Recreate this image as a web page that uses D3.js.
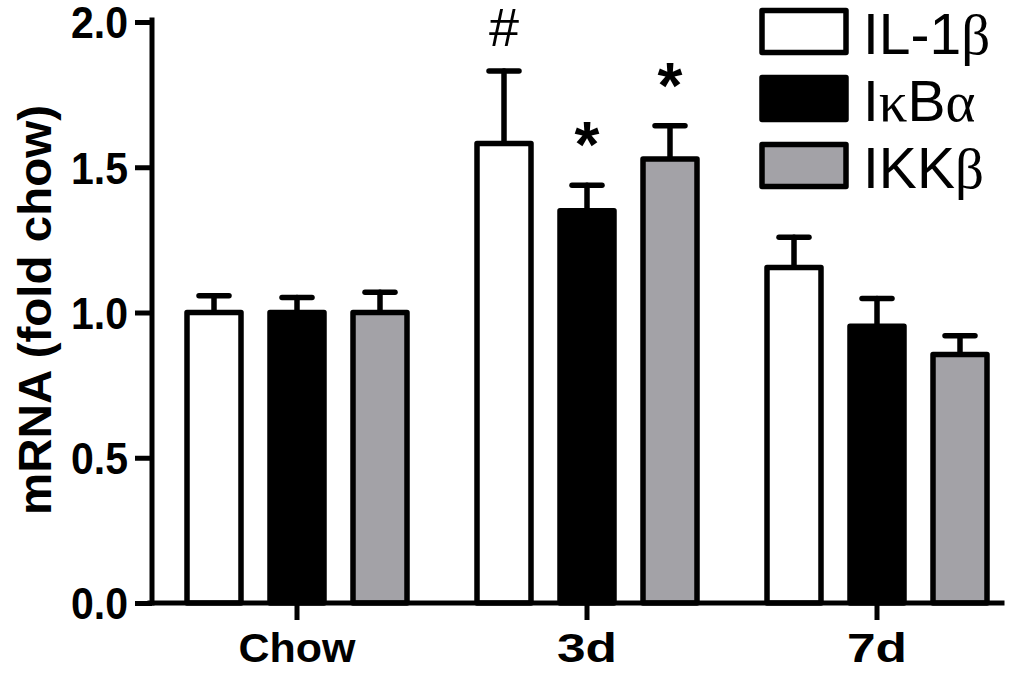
<!DOCTYPE html>
<html lang="en">
	<head>
		<meta charset="utf-8">
		<title>mRNA fold chow</title>
		<script type="text/javascript" src="https://d3js.org/d3.v7.min.js"></script>
		<style type="text/css">
			body { margin:0; background:#fff; }
			svg text { font-family: Arial, "Liberation Sans", sans-serif; fill:#000; }
			.axis path, .axis line { stroke:#000; stroke-width:5; }
			.axis text { font-weight:bold; font-size:44px; }
		</style>
	</head>
	<body>
		<svg id="chart"></svg>
		<script type="text/javascript">
			// data
			var categories = ["Chow", "3d", "7d"];
			var series = ["IL-1β", "IκBα", "IKKβ"];
			var il1b = [1.0, 1.582, 1.155];
			var il1bErr = [0.058, 0.249, 0.104];
			var ikba = [1.0, 1.35, 0.953];
			var ikbaErr = [0.052, 0.088, 0.095];
			var ikkb = [1.0, 1.528, 0.855];
			var ikkbErr = [0.07, 0.115, 0.065];
			var yTicks = [0, 0.5, 1.0, 1.5, 2.0];
			// significance marks: category, series index, symbol
			var markCat = ["3d", "3d", "3d"];
			var markSeries = [0, 1, 2];
			var markText = ["#", "*", "*"];

			var w = 1029, h = 677;
			var fills = ["#ffffff", "#000000", "#a3a2a7"];
			var values = [il1b, ikba, ikkb];
			var errs = [il1bErr, ikbaErr, ikkbErr];

			var svg = d3.select("#chart").attr("width", w).attr("height", h);

			var xScale = d3.scaleBand()
				.domain(categories)
				.range([152, 1022])
				.padding(0);
			var xInner = d3.scalePoint()
				.domain(d3.range(series.length))
				.range([-83, 83]);
			var yScale = d3.scaleLinear()
				.domain([0, 2])
				.range([603, 22]);
			var barW = 54;

			// flat table for the bars
			var rows = [];
			categories.forEach(function(c, i){
				series.forEach(function(s, j){
					rows.push({cat:c, s:j, v:values[j][i], e:errs[j][i]});
				});
			});
			var cx = d => xScale(d.cat) + xScale.bandwidth()/2 + xInner(d.s);

			// error bars (behind bars)
			var eb = svg.append("g").attr("stroke", "#000").attr("stroke-width", 5.5).attr("stroke-linecap", "round");
			eb.selectAll("line.whisker").data(rows).enter().append("line")
				.attr("class", "whisker")
				.attr("x1", cx).attr("x2", cx)
				.attr("y1", d => yScale(d.v)).attr("y2", d => yScale(d.v + d.e));
			eb.selectAll("line.cap").data(rows).enter().append("line")
				.attr("class", "cap")
				.attr("x1", d => cx(d) - 15).attr("x2", d => cx(d) + 15)
				.attr("y1", d => yScale(d.v + d.e)).attr("y2", d => yScale(d.v + d.e));

			svg.append("g").selectAll("rect").data(rows).enter().append("rect")
				.attr("x", d => cx(d) - barW/2)
				.attr("y", d => yScale(d.v))
				.attr("width", barW)
				.attr("height", d => yScale(0) - yScale(d.v))
				.attr("fill", d => fills[d.s])
				.attr("stroke", "#000")
				.attr("stroke-width", 5.5)
				.attr("stroke-linejoin", "round");

			// axes
			var yAxis = d3.axisLeft(yScale)
				.tickValues(yTicks)
				.tickFormat(d3.format(".1f"))
				.tickSize(17)
				.tickSizeOuter(0)
				.tickPadding(7);
			var gy = svg.append("g").attr("class", "axis")
				.attr("transform", "translate(152,0)")
				.call(yAxis);
			gy.selectAll("text").attr("textLength", 57).attr("lengthAdjust", "spacingAndGlyphs").attr("dy", "0.36em");

			var xAxis = d3.axisBottom(xScale)
				.tickSize(17)
				.tickSizeOuter(0)
				.tickPadding(13);
			var gx = svg.append("g").attr("class", "axis")
				.attr("transform", "translate(0,603)")
				.call(xAxis);
			gx.selectAll("text").style("font-size", "41px").attr("dy", "0.71em")
				.attr("textLength", d => d == "Chow" ? 117 : 60)
				.attr("lengthAdjust", "spacingAndGlyphs");
			gx.select("path.domain").attr("d", "M150,0H1002");
			gy.select("path.domain").attr("d", "M0,603V20");
			svg.selectAll(".axis path").attr("stroke-linecap", "square");

			// y title
			svg.append("text")
				.attr("transform", "translate(51,310) rotate(-90)")
				.attr("text-anchor", "middle")
				.attr("font-weight", "bold")
				.attr("font-size", 46)
				.attr("textLength", 410)
				.attr("lengthAdjust", "spacingAndGlyphs")
				.text("mRNA (fold chow)");

			// significance marks
			markText.forEach(function(t, k){
				var i = categories.indexOf(markCat[k]);
				var d = {cat:markCat[k], s:markSeries[k], v:values[markSeries[k]][i], e:errs[markSeries[k]][i]};
				svg.append("text")
					.attr("x", cx(d))
					.attr("y", yScale(d.v + d.e) - (t == "#" ? 25 : 18))
					.attr("text-anchor", "middle")
					.attr("font-size", t == "#" ? 54 : 64)
					.attr("font-weight", t == "#" ? "normal" : "bold")
					.text(t);
			});

			// legend
			var legend = svg.append("g").selectAll("g").data(series).enter().append("g")
				.attr("transform", (d, i) => "translate(762," + (10.5 + i*67) + ")");
			legend.append("rect")
				.attr("width", 84).attr("height", 42)
				.attr("fill", (d, i) => fills[i])
				.attr("stroke", "#000").attr("stroke-width", 5.5).attr("stroke-linejoin", "round");
			var lt = legend.append("text")
				.attr("x", 101).attr("y", 43)
				.attr("font-size", 57);
			// greek letters in a serif face, like the original
			lt.each(function(d){
				var t = d3.select(this);
				d.split("").forEach(function(ch){
					var greek = /[α-ω]/.test(ch);
					t.append("tspan")
						.style("font-family", greek ? "'Liberation Serif', 'DejaVu Serif', serif" : null)
						.text(ch);
				});
			});
		</script>
	</body>
</html>
